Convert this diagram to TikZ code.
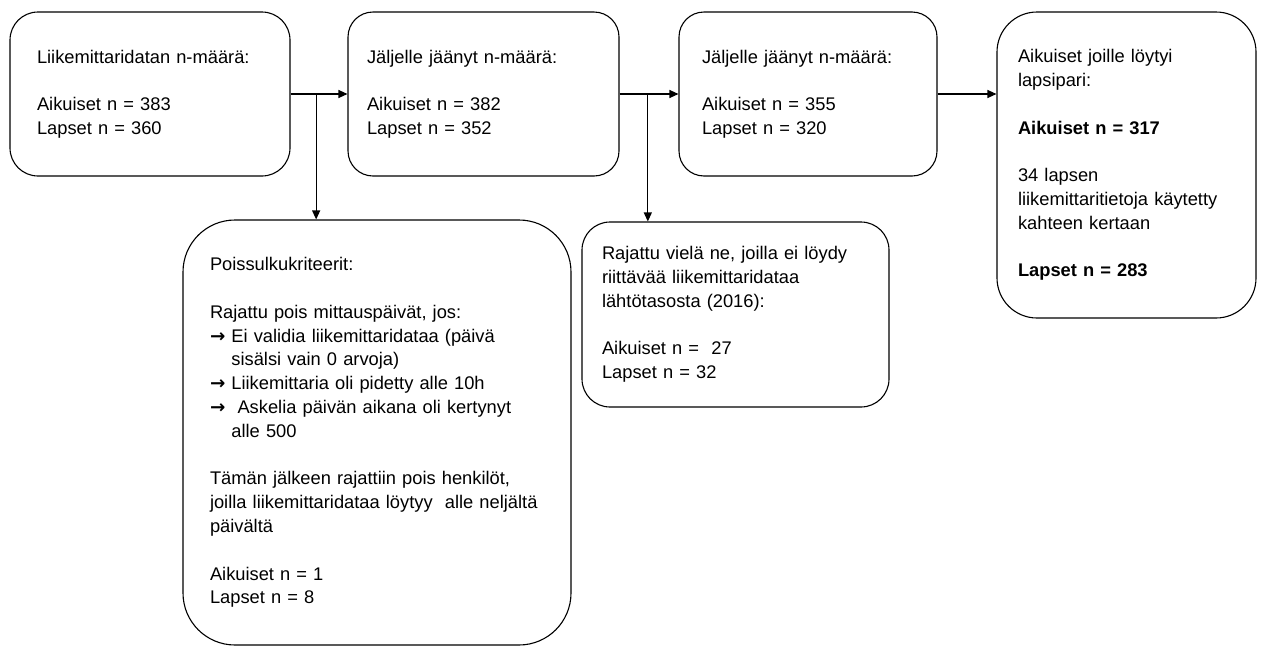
\documentclass[tikz,border=0pt]{standalone}
\usepackage{fontspec}
\setmainfont{Liberation Sans}
\newfontfamily\arrowfont{DejaVu Sans}
\newcommand{\arr}{{\arrowfont\bfseries →}}
\usetikzlibrary{arrows.meta,calc}

\tikzset{
  box/.style={draw, line width=1.1pt, align=left, inner ysep=0pt,
    font=\fontsize{18.3}{23.8}\selectfont},
  flow/.style={line width=1.1pt, -{Triangle[length=9pt,width=8pt]}}
}

\begin{document}
\begin{tikzpicture}[x=1pt,y=-1pt]
\useasboundingbox (0,0) rectangle (1261,646);
% top row
\node[box, rounded corners=28pt, minimum width=280pt, minimum height=164pt, inner xsep=27pt, text width=226pt] (data) at (150,94) {Liikemittaridatan n-määrä:\\[23.8pt]Aikuiset n = 383\\Lapset n = 360};
\node[box, rounded corners=25pt, minimum width=271pt, minimum height=164pt, inner xsep=19pt, text width=233pt] (left1) at (483.5,94) {Jäljelle jäänyt n-määrä:\\[23.8pt]Aikuiset n = 382\\Lapset n = 352};
\node[box, rounded corners=25pt, minimum width=258pt, minimum height=164pt, inner xsep=23pt, text width=212pt] (left2) at (808,94) {Jäljelle jäänyt n-määrä:\\[23.8pt]Aikuiset n = 355\\Lapset n = 320};
\node[box, rounded corners=40pt, minimum width=259pt, minimum height=306pt, inner xsep=21pt, text width=217pt] (pairs) at (1126.5,165) {Aikuiset joille löytyi\\lapsipari:\\[23.8pt]\textbf{Aikuiset n = 317}\\[23.8pt]34 lapsen\\liikemittaritietoja käytetty\\kahteen kertaan\\[23.8pt]\textbf{Lapset n = 283}};
% exclusions
\node[box, rounded corners=52pt, minimum width=388pt, minimum height=425pt, inner xsep=27pt, text width=334pt] (excl1) at (377,432.5) {Poissulkukriteerit:\\[23.8pt]Rajattu pois mittauspäivät, jos:\\\arr\ Ei validia liikemittaridataa (päivä\\\phantom{\arr\ }sisälsi vain 0 arvoja)\\\arr\ Liikemittaria oli pidetty alle 10h\\\arr\ \ Askelia päivän aikana oli kertynyt\\\phantom{\arr\ }alle 500\\[23.8pt]Tämän jälkeen rajattiin pois henkilöt,\\joilla liikemittaridataa löytyy \ alle neljältä\\päivältä\\[23.8pt]Aikuiset n = 1\\Lapset n = 8};
\node[box, rounded corners=28pt, minimum width=307pt, minimum height=185pt, inner xsep=20pt, text width=267pt] (excl2) at (735.5,314.5) {Rajattu vielä ne, joilla ei löydy\\riittävää liikemittaridataa\\lähtötasosta (2016):\\[23.8pt]Aikuiset n = \ 27\\Lapset n = 32};
% connectors
\draw[flow] (data.east) -- (left1.west);
\draw[flow] (left1.east) -- (left2.west);
\draw[flow] (left2.east) -- (left2.east -| pairs.west);
\path (data.east) -- (left1.west) coordinate[pos=0.45] (split1);
\path (left1.east) -- (left2.west) coordinate[pos=0.48] (split2);
\draw[flow] (split1) -- (split1 |- excl1.north);
\draw[flow] (split2) -- (split2 |- excl2.north);
\end{tikzpicture}
\end{document}
